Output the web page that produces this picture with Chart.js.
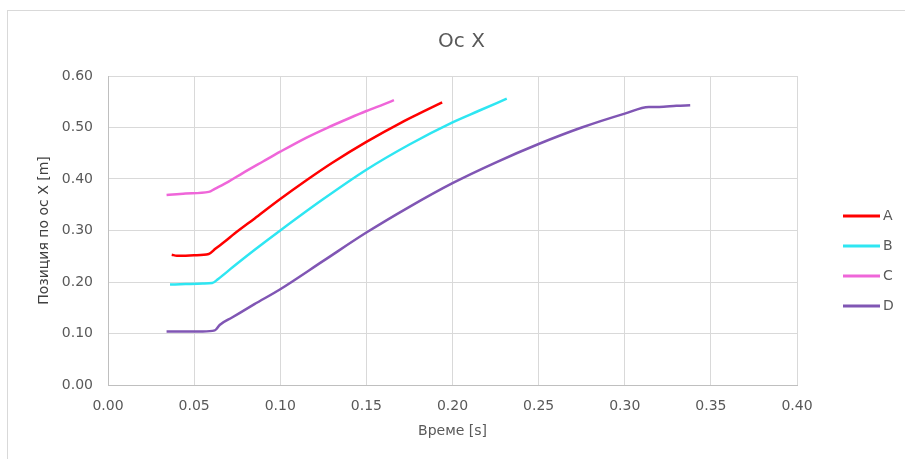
<!DOCTYPE html>
<html lang="bg">
  <head>
    <meta charset="UTF-8" />
    <title>Ос X</title>
    <script src="https://cdn.jsdelivr.net/npm/chart.js"></script>
    <style>
      html, body { margin: 0; padding: 0; background: #fff; }
      #wrap { position: relative; width: 905px; height: 459px; overflow: hidden; }
      #frame { position: absolute; left: 7px; top: 10px; width: 1000px; height: 1000px; border: 1px solid #d9d9d9; }
      canvas { position: absolute; left: 0; top: 0; }
    </style>
  </head>
  <body>
    <div id="wrap">
      <div id="frame"></div>
      <canvas id="chart" width="905" height="459"></canvas>
    </div>

    <script>
      const seriesNames = ['A', 'B', 'C', 'D'];
      const seriesColors = ['#ff0000', '#2ee6f2', '#ef66d9', '#8056b4'];

      const xA = [0.037, 0.040, 0.050, 0.0585, 0.0625, 0.068, 0.0735, 0.085, 0.100, 0.115, 0.130, 0.150, 0.170, 0.185, 0.194];
      const yA = [0.253, 0.251, 0.252, 0.2545, 0.265, 0.279, 0.294, 0.323, 0.361, 0.397, 0.431, 0.472, 0.509, 0.534, 0.549];

      const xB = [0.036, 0.045, 0.055, 0.0605, 0.064, 0.0725, 0.085, 0.100, 0.125, 0.150, 0.175, 0.200, 0.215, 0.2315];
      const yB = [0.195, 0.196, 0.197, 0.198, 0.206, 0.229, 0.262, 0.300, 0.361, 0.418, 0.467, 0.510, 0.532, 0.556];

      const xC = [0.034, 0.045, 0.0585, 0.062, 0.070, 0.078, 0.090, 0.100, 0.115, 0.127, 0.140, 0.150, 0.160, 0.166];
      const yC = [0.369, 0.372, 0.375, 0.381, 0.395, 0.411, 0.434, 0.453, 0.480, 0.499, 0.518, 0.532, 0.545, 0.553];

      const xD = [0.034, 0.045, 0.055, 0.062, 0.065, 0.072, 0.085, 0.100, 0.125, 0.150, 0.175, 0.200, 0.225, 0.250, 0.275, 0.300, 0.314, 0.320, 0.330, 0.338];
      const yD = [0.104, 0.104, 0.104, 0.106, 0.117, 0.131, 0.157, 0.186, 0.241, 0.296, 0.346, 0.392, 0.432, 0.468, 0.500, 0.527, 0.540, 0.540, 0.542, 0.543];

      const xTicks = [0.0, 0.05, 0.10, 0.15, 0.20, 0.25, 0.30, 0.35, 0.40];
      const yTicks = [0.0, 0.10, 0.20, 0.30, 0.40, 0.50, 0.60];

      const xs = [xA, xB, xC, xD];
      const ys = [yA, yB, yC, yD];

      const textColor = '#595959';
      const fontFamily = "'DejaVu Sans', sans-serif";

      // legend drawn at the right, like the original
      const sideLegend = {
        id: 'sideLegend',
        afterDraw(chart) {
          const ctx = chart.ctx;
          ctx.save();
          ctx.font = '14px ' + fontFamily;
          ctx.textBaseline = 'middle';
          chart.data.datasets.forEach((ds, i) => {
            const y = 216 + i * 30;
            ctx.strokeStyle = ds.borderColor;
            ctx.lineWidth = 3;
            ctx.beginPath();
            ctx.moveTo(843, y);
            ctx.lineTo(880, y);
            ctx.stroke();
            ctx.fillStyle = textColor;
            ctx.fillText(ds.label, 883, y);
          });
          ctx.restore();
        },
      };

      const datasets = seriesNames.map((name, i) => ({
        label: name,
        data: xs[i].map((x, j) => ({ x: x, y: ys[i][j] })),
        showLine: true,
        borderColor: seriesColors[i],
        backgroundColor: seriesColors[i],
        borderWidth: 2.5,
        pointRadius: 0,
        cubicInterpolationMode: 'monotone',
        fill: false,
      }));

      new Chart(document.getElementById('chart'), {
        type: 'scatter',
        data: { datasets },
        plugins: [sideLegend],
        options: {
          responsive: false,
          animation: false,
          layout: { padding: { left: 18, right: 0, top: 10, bottom: 10 } },
          plugins: {
            legend: { display: false },
            tooltip: { enabled: false },
            title: {
              display: true,
              text: 'Ос X',
              color: textColor,
              font: { family: fontFamily, size: 20, weight: 'normal' },
              padding: { top: 20, bottom: 22 },
            },
          },
          scales: {
            x: {
              type: 'linear',
              min: 0,
              max: 0.4,
              afterBuildTicks: (scale) => { scale.ticks = xTicks.map((v) => ({ value: v })); },
              afterFit: (scale) => { scale.height = 64; },
              ticks: {
                color: textColor,
                padding: 13,
                font: { family: fontFamily, size: 14 },
                callback: (v) => Number(v).toFixed(2),
              },
              grid: { color: '#d9d9d9', drawTicks: false },
              border: { color: '#bfbfbf' },
              title: {
                display: true,
                text: 'Време [s]',
                color: textColor,
                font: { family: fontFamily, size: 14 },
                padding: { top: 9, bottom: 9 },
              },
            },
            y: {
              type: 'linear',
              min: 0,
              max: 0.6,
              afterBuildTicks: (scale) => { scale.ticks = yTicks.map((v) => ({ value: v })); },
              afterFit: (scale) => { scale.width = 90; },
              ticks: {
                color: textColor,
                padding: 15,
                font: { family: fontFamily, size: 14 },
                callback: (v) => Number(v).toFixed(2),
              },
              grid: { color: '#d9d9d9', drawTicks: false },
              border: { color: '#bfbfbf' },
              title: {
                display: true,
                text: 'Позиция по ос X [m]',
                color: '#404040',
                font: { family: fontFamily, size: 14 },
                padding: { top: 18, bottom: 4 },
              },
            },
            // empty right-hand axis that keeps room for the legend
            side: {
              position: 'right',
              display: true,
              ticks: { display: false },
              grid: { display: false },
              border: { display: false },
              afterFit: (scale) => { scale.width = 108; },
            },
          },
        },
      });
    </script>
  </body>
</html>
